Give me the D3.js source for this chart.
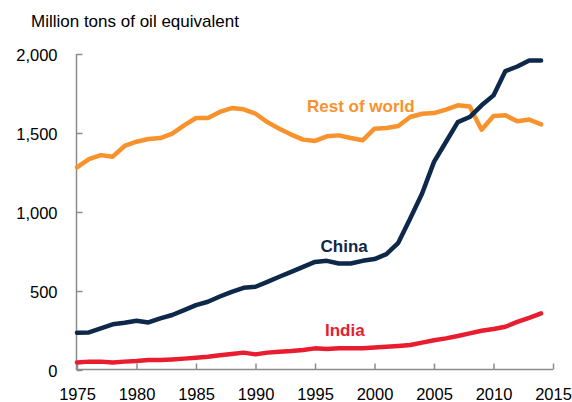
<!DOCTYPE html>
<html>
<head>
<meta charset="utf-8">
<script src="https://cdn.jsdelivr.net/npm/d3@7"></script>
<style>
  body { margin: 0; background: #fff; }
  svg { display: block; font-family: "Liberation Sans", Arial, sans-serif; }
  .axis path, .axis line { stroke: #8c8c8c; stroke-width: 1.5; }
  .axis text { font-size: 16.5px; fill: #000; }
</style>
</head>
<body>
<svg id="chart" width="572" height="402"></svg>
<script>
const years = d3.range(1975, 2015);
const restOfWorld = [
  1283, 1335, 1360, 1350, 1418, 1445, 1462, 1468, 1496, 1548,
  1595, 1595, 1633, 1658, 1650, 1622, 1569, 1527, 1490, 1458,
  1450, 1479, 1485, 1468, 1454, 1527, 1532, 1544, 1601, 1622,
  1626, 1648, 1675, 1668, 1521, 1608, 1612, 1574, 1585, 1555,
];
const china = [
  236, 238, 263, 289, 299, 312, 301, 327, 348, 379,
  411, 432, 465, 495, 520, 527, 558, 590, 621, 653,
  684, 691, 674, 674, 691, 702, 733, 805, 959, 1117,
  1317, 1443, 1569, 1601, 1675, 1738, 1892, 1921, 1959, 1959,
];
const india = [
  48, 53, 53, 48, 53, 57, 63, 63, 67, 72,
  78, 84, 93, 101, 110, 99, 110, 116, 120, 126,
  137, 133, 137, 137, 137, 143, 147, 152, 158, 173,
  188, 200, 215, 232, 248, 259, 274, 305, 330, 358,
];
const yTicks = [0, 500, 1000, 1500, 2000];
const xTicks = [1975, 1980, 1985, 1990, 1995, 2000, 2005, 2010, 2015];

const series = [
  { name: "Rest of world", values: restOfWorld, color: "#f7922d", label: [307, 111.5] },
  { name: "China", values: china, color: "#0d2849", label: [320.5, 251.5] },
  { name: "India", values: india, color: "#e81e30", label: [325, 336] },
];

const svg = d3.select("#chart");

const x = d3.scaleLinear().domain([1975, 2015]).range([77, 553]);
const y = d3.scaleLinear().domain([0, 2000]).range([370, 54]);

svg.append("text")
  .attr("x", 31)
  .attr("y", 27)
  .attr("font-size", 17)
  .text("Million tons of oil equivalent");

svg.append("g")
  .attr("class", "axis")
  .attr("transform", "translate(76.5,0)")
  .call(d3.axisLeft(y).tickValues(yTicks).tickFormat(d3.format(","))
    .tickSizeInner(-6).tickSizeOuter(0).tickPadding(19))
  .call(g => g.select(".domain").attr("d", `M0,${y(2000)}V${y(0)}`))
  .call(g => g.selectAll(".tick text").attr("dy", "0.37em"));

svg.append("g")
  .attr("class", "axis")
  .attr("transform", "translate(0,369.5)")
  .call(d3.axisBottom(x).tickValues(xTicks).tickFormat(d3.format("d"))
    .tickSizeInner(-6).tickSizeOuter(0).tickPadding(19))
  .call(g => g.select(".domain").attr("d", `M${x(1975)},0H${x(2015)}`));

const line = d3.line()
  .x((d, i) => x(years[i]))
  .y(d => y(d));

svg.selectAll(".series")
  .data(series)
  .enter()
  .append("path")
  .attr("class", "series")
  .attr("fill", "none")
  .attr("stroke", d => d.color)
  .attr("stroke-width", 4.5)
  .attr("stroke-linejoin", "round")
  .attr("stroke-linecap", "round")
  .attr("d", d => line(d.values));

svg.selectAll(".label")
  .data(series)
  .enter()
  .append("text")
  .attr("class", "label")
  .attr("x", d => d.label[0])
  .attr("y", d => d.label[1])
  .attr("font-size", 17)
  .attr("font-weight", "bold")
  .attr("fill", d => d.color)
  .text(d => d.name);
</script>
</body>
</html>
